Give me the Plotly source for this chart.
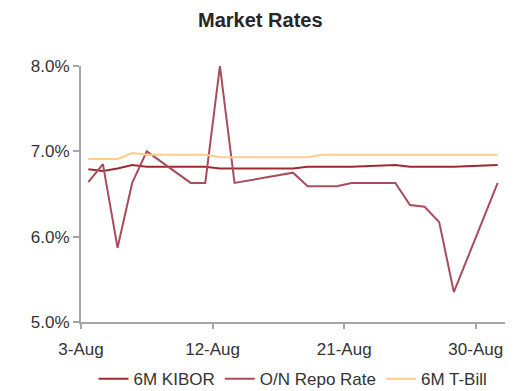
import plotly.graph_objects as go

dates = ["2020-08-03", "2020-08-04", "2020-08-05", "2020-08-06", "2020-08-07",
         "2020-08-10", "2020-08-11", "2020-08-12", "2020-08-13",
         "2020-08-17", "2020-08-18", "2020-08-19", "2020-08-20", "2020-08-21",
         "2020-08-24", "2020-08-25", "2020-08-26", "2020-08-27", "2020-08-28",
         "2020-08-31"]

kibor = [6.79, 6.77, 6.80, 6.84, 6.82,
         6.82, 6.82, 6.80, 6.80,
         6.80, 6.82, 6.82, 6.82, 6.82,
         6.84, 6.82, 6.82, 6.82, 6.82,
         6.84]

repo = [6.64, 6.85, 5.87, 6.63, 7.00,
        6.63, 6.63, 8.00, 6.63,
        6.75, 6.59, 6.59, 6.59, 6.63,
        6.63, 6.37, 6.35, 6.17, 5.35,
        6.63]

tbill = [6.91, 6.91, 6.91, 6.98, 6.96,
         6.96, 6.96, 6.93, 6.93,
         6.93, 6.93, 6.96, 6.96, 6.96,
         6.96, 6.96, 6.96, 6.96, 6.96,
         6.96]

tick_vals = ["2020-08-03", "2020-08-12", "2020-08-21", "2020-08-30"]
tick_text = ["3-Aug", "12-Aug", "21-Aug", "30-Aug"]

x = [d + " 12:00" for d in dates]

FONT = "Liberation Sans"
fig = go.Figure()
fig.add_trace(go.Scatter(x=x, y=kibor, mode="lines", name="6M KIBOR",
                         line=dict(color="#9E2A30", width=2)))
fig.add_trace(go.Scatter(x=x, y=repo, mode="lines", name="O/N Repo Rate",
                         line=dict(color="#A84D5C", width=2)))
fig.add_trace(go.Scatter(x=x, y=tbill, mode="lines", name="6M T-Bill",
                         line=dict(color="#FFCC8E", width=2)))

fig.update_layout(
    width=528, height=391,
    margin=dict(l=81, r=23, t=66, b=69, autoexpand=False),
    paper_bgcolor="white", plot_bgcolor="white",
    font=dict(family=FONT, size=17, color="#333333"),
    title=dict(text="<b>Market Rates</b>", x=0.493, xanchor="center",
               y=0.948, yanchor="middle",
               font=dict(family=FONT, size=20, color="#262626")),
    showlegend=True,
    legend=dict(orientation="h", x=0.5, xanchor="center",
                yref="container", y=0.03, yanchor="middle",
                font=dict(family=FONT, size=17, color="#333333"),
                itemwidth=30, tracegroupgap=0),
    xaxis=dict(type="date", range=["2020-08-03", "2020-09-01"],
               tickvals=tick_vals, ticktext=tick_text,
               showgrid=False, zeroline=False,
               showline=True, linecolor="#A6A6A6", linewidth=2,
               ticks="outside", ticklen=5, tickcolor="#A6A6A6", tickwidth=2,
               ticklabelstandoff=6),
    yaxis=dict(range=[5, 8], tickvals=[5, 6, 7, 8],
               ticktext=["5.0%", "6.0%", "7.0%", "8.0%"],
               showgrid=False, zeroline=False,
               showline=True, linecolor="#A6A6A6", linewidth=2,
               ticks="outside", ticklen=6, tickcolor="#A6A6A6", tickwidth=2),
)

fig.write_html("out.html")
